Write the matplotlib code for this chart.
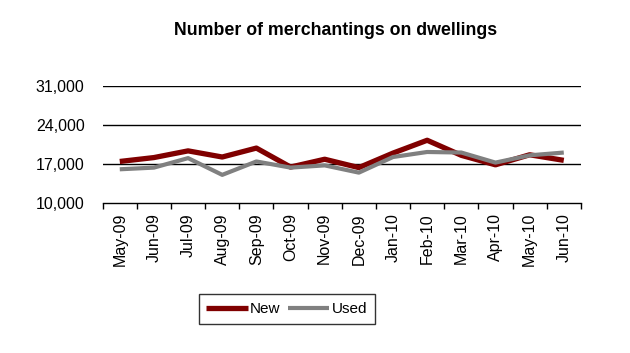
import matplotlib
matplotlib.use('Agg')
import matplotlib.pyplot as plt

plt.rcParams['font.family'] = ['Liberation Sans', 'DejaVu Sans']

months = ['May-09', 'Jun-09', 'Jul-09', 'Aug-09', 'Sep-09', 'Oct-09', 'Nov-09',
          'Dec-09', 'Jan-10', 'Feb-10', 'Mar-10', 'Apr-10', 'May-10', 'Jun-10']
new = [17500, 18200, 19400, 18300, 19900, 16500, 17900,
       16400, 19000, 21300, 18600, 16900, 18700, 17700]
used = [16100, 16400, 18100, 15100, 17500, 16400, 16800,
        15500, 18300, 19200, 19100, 17300, 18600, 19100]
yticks = [10000, 17000, 24000, 31000]

fig = plt.figure(figsize=(6.3, 3.53), dpi=100)
ax = fig.add_axes([0.163, 0.424, 0.759, 0.332])

x = list(range(len(months)))
ax.plot(x, new, color='#800000', lw=3.8, solid_joinstyle='round',
        solid_capstyle='butt', label='New')
ax.plot(x, used, color='#808080', lw=3.0, solid_joinstyle='round',
        solid_capstyle='butt', label='Used')

ax.set_xlim(-0.5, len(months) - 0.5)
ax.set_ylim(10000, 31000)
ax.set_yticks(yticks)
ax.set_yticklabels([f'{v:,}' for v in yticks], fontsize=11.5)
for v in yticks[1:]:
    ax.axhline(v, color='black', lw=1.0, zorder=0)

ax.set_xticks(x)
ax.set_xticklabels(months, rotation=90, fontsize=11.5)
ax.set_xticks([i - 0.5 for i in range(len(months) + 1)], minor=True)
ax.tick_params(axis='x', which='major', length=0, pad=7)
ax.tick_params(axis='x', which='minor', length=4, width=1, color='black')
ax.tick_params(axis='y', length=0, pad=13)

for s in ['top', 'right', 'left']:
    ax.spines[s].set_visible(False)
ax.spines['bottom'].set_linewidth(1.0)

fig.text(0.533, 0.915, 'Number of merchantings on dwellings',
         ha='center', va='center', fontsize=12.8, fontweight='bold')

leg = fig.legend(loc='center', bbox_to_anchor=(0.455, 0.125), ncol=2,
                 fontsize=11, frameon=True, fancybox=False, edgecolor='black',
                 handlelength=2.7, handletextpad=0.15, columnspacing=0.5,
                 borderpad=0.5, borderaxespad=0)
leg.get_frame().set_linewidth(1.0)

fig.savefig('out.png', dpi=100)
